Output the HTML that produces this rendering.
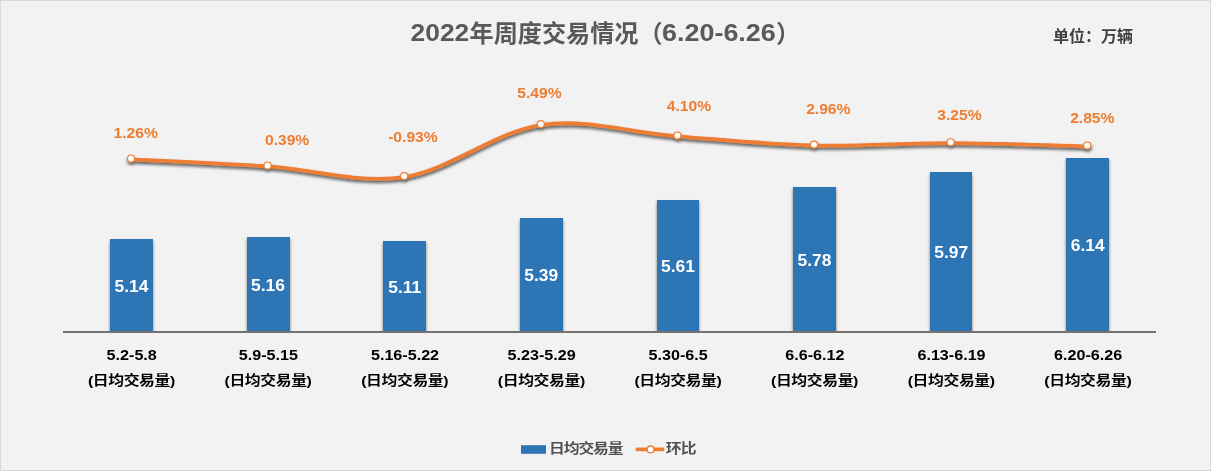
<!DOCTYPE html>
<html lang="zh-CN">
<head>
<meta charset="utf-8">
<title>2022年周度交易情况（6.20-6.26）</title>
<style>
html,body{margin:0;padding:0;background:#f2f2f2;}
body{width:1211px;height:471px;overflow:hidden;position:relative;}
svg{position:absolute;left:0;top:0;display:block;}
text{font-family:"Liberation Sans","Noto Sans CJK SC",sans-serif;font-weight:bold;}
.title{font-size:24px;fill:#595959;}
.unit{font-size:16px;fill:#404040;}
.pct{font-size:15.2px;fill:#ed7d31;}
.val{font-size:15.7px;fill:#ffffff;}
.cat{font-size:14.67px;fill:#000000;}
.leg{font-size:13.2px;fill:#505050;}
.cat2{font-size:13.2px;fill:#000;}
</style>
</head>
<body>
<svg width="1211" height="471" viewBox="0 0 1211 471">
<defs>
<filter id="ls" x="-5%" y="-50%" width="110%" height="200%"><feDropShadow dx="0.4" dy="2.2" stdDeviation="1.5" flood-color="#0c0c0c" flood-opacity="0.72"/></filter>
<filter id="bs" x="-30%" y="-10%" width="160%" height="120%"><feDropShadow dx="0" dy="2" stdDeviation="1.6" flood-color="#2a1a10" flood-opacity="0.6"/></filter>
</defs>
<rect x="0" y="0" width="1211" height="471" fill="#f2f2f2"/>
<rect x="0.5" y="0.5" width="1210" height="470" fill="none" stroke="#d9d9d9" stroke-width="1"/>
<clipPath id="bc"><rect x="0" y="0" width="1211" height="331"/></clipPath>

<g clip-path="url(#bc)"><g filter="url(#bs)" fill="#2e75b6">
<rect x="110" y="239" width="43" height="92"/>
<rect x="247" y="237" width="43" height="94"/>
<rect x="383" y="241" width="43" height="90"/>
<rect x="520" y="218" width="43" height="113"/>
<rect x="657" y="200" width="42" height="131"/>
<rect x="793" y="187" width="43" height="144"/>
<rect x="930" y="172" width="42" height="159"/>
<rect x="1066" y="158" width="43" height="173"/>
</g></g>
<rect x="63" y="331" width="1093" height="2" fill="#767171"/>
<g filter="url(#ls)">
<path d="M131.00 158.09 C153.77 159.27 222.07 162.18 267.60 165.14 C313.13 168.10 358.67 182.72 404.20 175.83 C449.73 168.95 495.27 130.62 540.80 123.83 C586.33 117.04 631.87 131.67 677.40 135.09 C722.93 138.51 768.47 143.18 814.00 144.32 C859.53 145.47 905.07 141.83 950.60 141.98 C996.13 142.12 1064.43 144.68 1087.20 145.22" fill="none" stroke="#ed7d31" stroke-width="3.8" stroke-linecap="round" stroke-linejoin="round" transform="translate(0,1.2)"/>
<circle cx="131.0" cy="158.4" r="3.5" fill="#ffffff" stroke="#ed7d31" stroke-width="1.05"/>
<circle cx="267.6" cy="165.4" r="3.5" fill="#ffffff" stroke="#ed7d31" stroke-width="1.05"/>
<circle cx="404.2" cy="176.1" r="3.5" fill="#ffffff" stroke="#ed7d31" stroke-width="1.05"/>
<circle cx="540.8" cy="124.1" r="3.5" fill="#ffffff" stroke="#ed7d31" stroke-width="1.05"/>
<circle cx="677.4" cy="135.4" r="3.5" fill="#ffffff" stroke="#ed7d31" stroke-width="1.05"/>
<circle cx="814.0" cy="144.6" r="3.5" fill="#ffffff" stroke="#ed7d31" stroke-width="1.05"/>
<circle cx="950.6" cy="142.3" r="3.5" fill="#ffffff" stroke="#ed7d31" stroke-width="1.05"/>
<circle cx="1087.2" cy="145.5" r="3.5" fill="#ffffff" stroke="#ed7d31" stroke-width="1.05"/>
</g>
<text class="pct" transform="translate(135.7 137.6) scale(1.03 1)" text-anchor="middle">1.26%</text>
<text class="pct" transform="translate(287.1 144.7) scale(1.03 1)" text-anchor="middle">0.39%</text>
<text class="pct" transform="translate(412.9 141.8) scale(1.03 1)" text-anchor="middle">-0.93%</text>
<text class="pct" transform="translate(539.4 97.6) scale(1.03 1)" text-anchor="middle">5.49%</text>
<text class="pct" transform="translate(689.0 110.8) scale(1.03 1)" text-anchor="middle">4.10%</text>
<text class="pct" transform="translate(828.3 113.9) scale(1.03 1)" text-anchor="middle">2.96%</text>
<text class="pct" transform="translate(959.4 119.8) scale(1.03 1)" text-anchor="middle">3.25%</text>
<text class="pct" transform="translate(1092.3 122.6) scale(1.03 1)" text-anchor="middle">2.85%</text>
<text class="val" transform="translate(131.4 291.9) scale(1.11 1)" text-anchor="middle">5.14</text>
<text class="val" transform="translate(268.0 290.9) scale(1.11 1)" text-anchor="middle">5.16</text>
<text class="val" transform="translate(404.7 292.9) scale(1.11 1)" text-anchor="middle">5.11</text>
<text class="val" transform="translate(541.3 281.4) scale(1.11 1)" text-anchor="middle">5.39</text>
<text class="val" transform="translate(677.9 272.4) scale(1.11 1)" text-anchor="middle">5.61</text>
<text class="val" transform="translate(814.5 265.9) scale(1.11 1)" text-anchor="middle">5.78</text>
<text class="val" transform="translate(951.2 258.4) scale(1.11 1)" text-anchor="middle">5.97</text>
<text class="val" transform="translate(1087.8 251.3) scale(1.11 1)" text-anchor="middle">6.14</text>
<text class="cat" transform="translate(131.7 359.6) scale(1.10 1)" text-anchor="middle">5.2-5.8</text>
<text class="cat2" transform="translate(131.6 385) scale(1.2 1)" text-anchor="middle" textLength="72.8" lengthAdjust="spacing">(日均交易量)</text>
<text class="cat" transform="translate(268.3 359.6) scale(1.10 1)" text-anchor="middle">5.9-5.15</text>
<text class="cat2" transform="translate(268.2 385) scale(1.2 1)" text-anchor="middle" textLength="72.8" lengthAdjust="spacing">(日均交易量)</text>
<text class="cat" transform="translate(405.0 359.6) scale(1.10 1)" text-anchor="middle">5.16-5.22</text>
<text class="cat2" transform="translate(404.9 385) scale(1.2 1)" text-anchor="middle" textLength="72.8" lengthAdjust="spacing">(日均交易量)</text>
<text class="cat" transform="translate(541.6 359.6) scale(1.10 1)" text-anchor="middle">5.23-5.29</text>
<text class="cat2" transform="translate(541.5 385) scale(1.2 1)" text-anchor="middle" textLength="72.8" lengthAdjust="spacing">(日均交易量)</text>
<text class="cat" transform="translate(678.2 359.6) scale(1.10 1)" text-anchor="middle">5.30-6.5</text>
<text class="cat2" transform="translate(678.1 385) scale(1.2 1)" text-anchor="middle" textLength="72.8" lengthAdjust="spacing">(日均交易量)</text>
<text class="cat" transform="translate(814.8 359.6) scale(1.10 1)" text-anchor="middle">6.6-6.12</text>
<text class="cat2" transform="translate(814.7 385) scale(1.2 1)" text-anchor="middle" textLength="72.8" lengthAdjust="spacing">(日均交易量)</text>
<text class="cat" transform="translate(951.5 359.6) scale(1.10 1)" text-anchor="middle">6.13-6.19</text>
<text class="cat2" transform="translate(951.4 385) scale(1.2 1)" text-anchor="middle" textLength="72.8" lengthAdjust="spacing">(日均交易量)</text>
<text class="cat" transform="translate(1088.1 359.6) scale(1.10 1)" text-anchor="middle">6.20-6.26</text>
<text class="cat2" transform="translate(1088.0 385) scale(1.2 1)" text-anchor="middle" textLength="72.8" lengthAdjust="spacing">(日均交易量)</text>
<text class="title"><tspan x="410.6" y="41" font-size="24.7" textLength="58.6" lengthAdjust="spacingAndGlyphs">2022</tspan><tspan x="469.5" y="42" font-size="24.15">年周度交易情况（</tspan><tspan x="662" y="41" font-size="24.7" textLength="113.8" lengthAdjust="spacingAndGlyphs">6.20-6.26</tspan><tspan x="776" y="42" font-size="24.15">）</tspan></text>
<text class="unit" x="1053" y="42.2">单位：万辆</text>
<rect x="521" y="445.2" width="25" height="8.6" fill="#2e75b6"/>
<text class="leg" transform="translate(548.9 453) scale(1.2 1)" letter-spacing="-0.9">日均交易量</text>
<g><path d="M637.3 449.4H662.6" stroke="#ed7d31" stroke-width="3.7" stroke-linecap="round" fill="none"/><circle cx="650.6" cy="449.4" r="3.4" fill="#fff" stroke="#ed7d31" stroke-width="1.3"/></g>
<text class="leg" transform="translate(665.8 453) scale(1.2 1)" letter-spacing="-0.7">环比</text>
</svg>
</body>
</html>
